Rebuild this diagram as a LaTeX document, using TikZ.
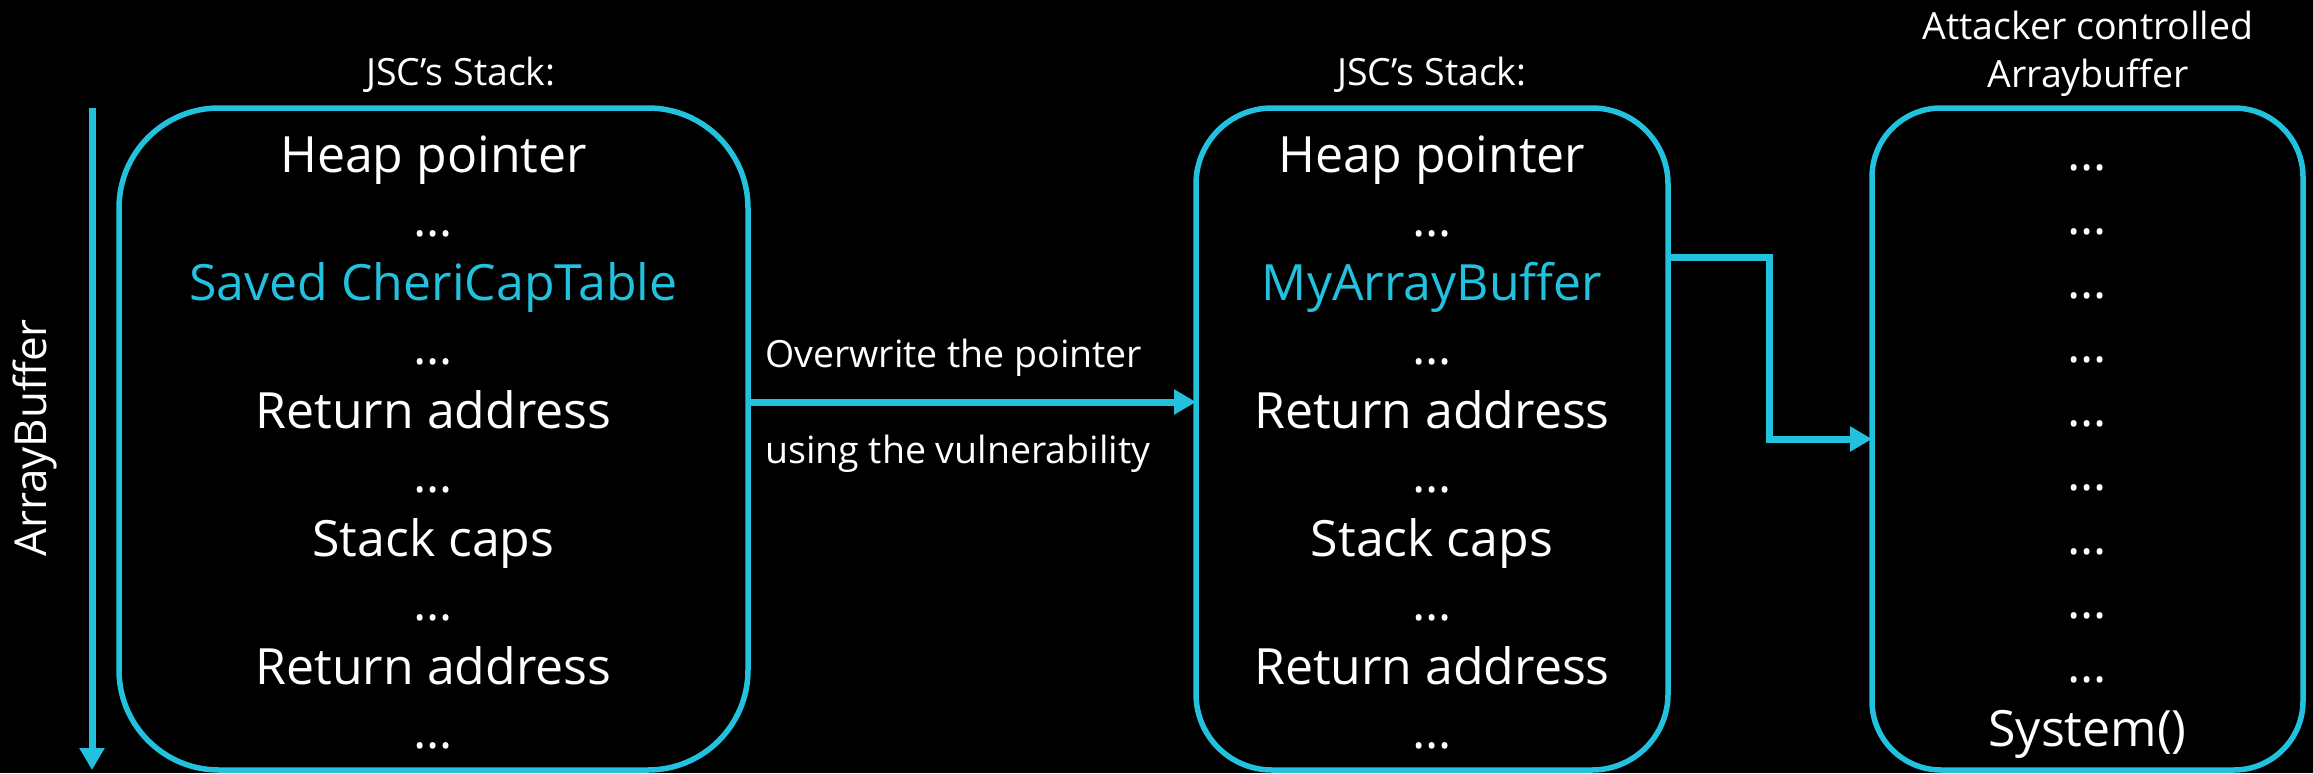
\documentclass[tikz,border=0pt]{standalone}
\usepackage{fontspec}
\setmainfont{Open Sans}
\usetikzlibrary{arrows.meta}
\definecolor{capcyan}{HTML}{22C2DE}

\begin{document}
\begin{tikzpicture}[x=1pt,y=-1pt,
  stackbox/.style={draw=capcyan,line width=5.5pt,rectangle,minimum width=#1,minimum height=662pt,inner sep=0pt,outer sep=0pt},
  cell/.style={anchor=base,text=white,font=\fontsize{50}{60}\selectfont,inner sep=0pt},
  smalltxt/.style={anchor=base,text=white,font=\fontsize{37.5}{45}\selectfont,inner sep=0pt},
  conn/.style={draw=capcyan,line width=7pt,-{Triangle[length=22pt,width=24pt]}}]

\fill[black] (0,0) rectangle (2313,773);

% the three memory regions
\node[stackbox=629pt,rounded corners=100pt] (stackA) at (433.5,439) {};
\node[stackbox=472pt,rounded corners=76pt] (stackB) at (1432,439) {};
\node[stackbox=431pt,rounded corners=69pt] (heapbuf) at (2087.5,439) {};

\node[smalltxt] (hdrA) at (461,85) {JSC’s Stack:};
\node[smalltxt] (hdrB) at (1432,85) {JSC’s Stack:};
\node[smalltxt] (hdrC1) at (2088,39) {Attacker controlled};
\node[smalltxt] (hdrC2) at (2088,87) {Arraybuffer};

\foreach \txt [count=\i from 0] in {Heap pointer,…,\textcolor{capcyan}{Saved CheriCapTable},…,Return address,…,Stack caps,…,Return address,…}
  \node[cell] (a\i) at (433.5,{172+64*\i}) {\txt};

\foreach \txt [count=\i from 0] in {Heap pointer,…,\textcolor{capcyan}{MyArrayBuffer},…,Return address,…,Stack caps,…,Return address,…}
  \node[cell] (b\i) at (1432,{172+64*\i}) {\txt};

\foreach \i in {0,...,8}
  \node[cell] (c\i) at (2087.5,{170+64*\i}) {…};
\node[cell] (csys) at (2087.5,746) {System()};

% direction of the buffer
\coordinate (abtop) at (92,108);
\coordinate (abbot) at (92,770);
\draw[conn] (abtop) -- (abbot);
\node[smalltxt,font=\fontsize{44}{50}\selectfont,rotate=90] (abname) at (46,438) {ArrayBuffer};

% overwrite step
\draw[conn] ([yshift=37pt]stackA.east) -- ([yshift=37pt]stackB.west);
\node[smalltxt,anchor=base west] (ovr) at (765,367) {Overwrite the pointer};
\node[smalltxt,anchor=base west] (vuln) at (765,463) {using the vulnerability};

\coordinate (elbow) at (1769,257);
\draw[conn,line join=miter] ([yshift=182pt]stackB.east) -- (elbow) |- (heapbuf.west);
\end{tikzpicture}
\end{document}
